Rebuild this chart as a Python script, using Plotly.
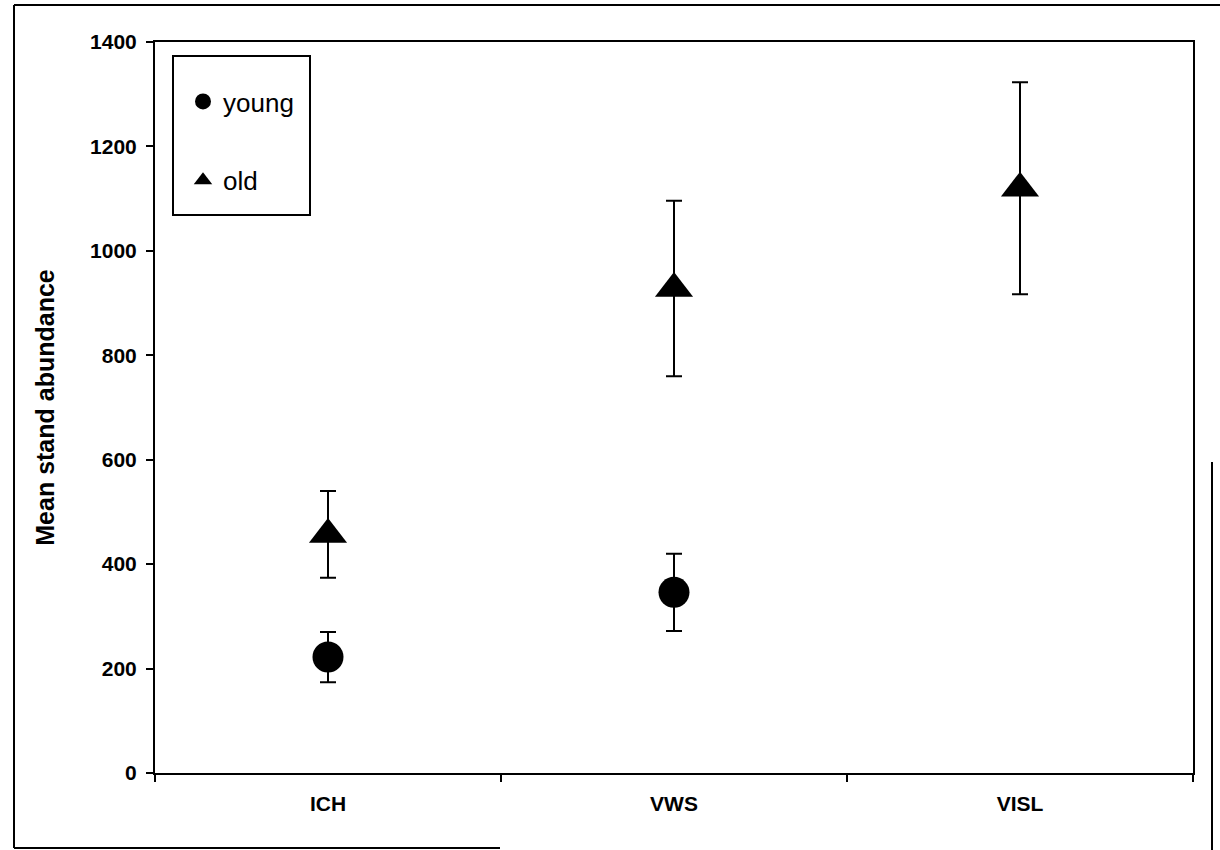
import plotly.graph_objects as go

categories = ["ICH", "VWS", "VISL"]
young_mean = [222, 346, None]
young_err = [48, 74, None]
old_mean = [457, 928, 1120]
old_err = [83, 168, 203]
y_ticks = [0, 200, 400, 600, 800, 1000, 1200, 1400]

FONT = "Liberation Sans, Arial, sans-serif"
W, H = 1220, 850
ML, MR, MT, MB = 155, 27, 42, 77
PW, PH = W - ML - MR, H - MT - MB


def px(x):
    return (x - ML) / PW


def py(y):
    return (H - MB - y) / PH


fig = go.Figure()
fig.add_trace(go.Scatter(
    x=categories, y=young_mean, name="young", mode="markers",
    legendgroup="young",
    marker=dict(symbol="circle", size=31, color="black", line=dict(width=0)),
    error_y=dict(type="data", array=young_err, visible=True,
                 color="black", thickness=2, width=8),
))
fig.add_trace(go.Scatter(
    x=categories, y=old_mean, name="old", mode="markers",
    legendgroup="old",
    marker=dict(symbol="triangle-up", size=33, color="black", line=dict(width=0)),
    error_y=dict(type="data", array=old_err, visible=True,
                 color="black", thickness=2, width=8),
))

# legend box and outer scanned frame
shapes = [
    dict(type="rect", xref="paper", yref="paper",
         x0=px(173), x1=px(310), y0=py(215), y1=py(56),
         line=dict(color="black", width=2), fillcolor="rgba(0,0,0,0)"),
    dict(type="line", xref="paper", yref="paper",
         x0=px(14), x1=px(1220), y0=py(5), y1=py(5),
         line=dict(color="black", width=2)),
    dict(type="line", xref="paper", yref="paper",
         x0=px(14), x1=px(14), y0=py(5), y1=py(848),
         line=dict(color="black", width=2)),
    dict(type="line", xref="paper", yref="paper",
         x0=px(14), x1=px(500), y0=py(848), y1=py(848),
         line=dict(color="black", width=2)),
    dict(type="line", xref="paper", yref="paper",
         x0=px(1212), x1=px(1212), y0=py(462), y1=py(850),
         line=dict(color="black", width=2)),
]

fig.update_layout(
    width=W, height=H,
    margin=dict(l=ML, r=MR, t=MT, b=MB, autoexpand=False),
    paper_bgcolor="white", plot_bgcolor="white",
    font=dict(family=FONT, color="black"),
    showlegend=True,
    legend=dict(
        x=px(183), y=py(78), xanchor="left", yanchor="top",
        bgcolor="rgba(0,0,0,0)", borderwidth=0,
        font=dict(family=FONT, size=26, color="black"),
        tracegroupgap=42, itemwidth=30,
    ),
    shapes=shapes,
    xaxis=dict(
        type="category", categoryorder="array", categoryarray=categories,
        range=[-0.5, 2.5],
        showline=True, linecolor="black", linewidth=2, mirror=True,
        ticks="outside", tickson="boundaries", ticklen=7, tickwidth=2,
        tickcolor="black",
        tickfont=dict(family=FONT, size=21, weight="bold"),
        ticklabelstandoff=11,
        showgrid=False, zeroline=False,
    ),
    yaxis=dict(
        range=[0, 1400], tickvals=y_ticks,
        showline=True, linecolor="black", linewidth=2, mirror=True,
        ticks="outside", ticklen=7, tickwidth=2, tickcolor="black",
        tickfont=dict(family=FONT, size=21, weight="bold"),
        ticklabelstandoff=5,
        showgrid=False, zeroline=False,
        title=dict(text="Mean stand abundance", standoff=28,
                   font=dict(family=FONT, size=25, weight="bold")),
    ),
)

fig.write_html("out.html")
